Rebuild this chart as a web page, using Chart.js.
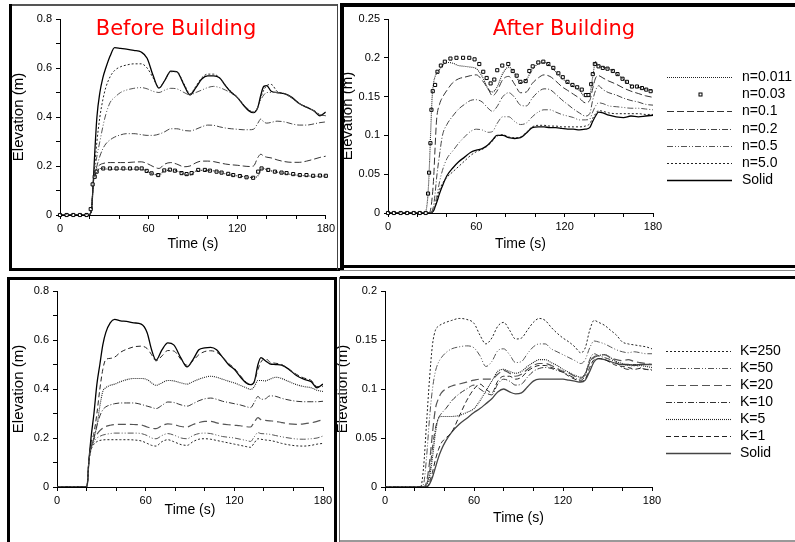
<!DOCTYPE html>
<html><head><meta charset="utf-8">
<script src="https://cdn.jsdelivr.net/npm/chart.js@4/dist/chart.umd.min.js"></script>
<style>
html,body{margin:0;padding:0;background:#fff;}
#wrap{position:relative;width:795px;height:542px;overflow:hidden;background:#fff;}
canvas{position:absolute;}
.b{position:absolute;background:#000;}
.ttl{position:absolute;color:#f00;font-family:"DejaVu Sans",sans-serif;font-size:21px;white-space:nowrap;transform:translate(-50%,-50%);line-height:1;}
</style></head>
<body><div id="wrap">
<canvas id="cTL" width="338" height="268" style="left:0px;top:0px"></canvas>
<canvas id="cTR" width="459" height="262" style="left:336px;top:4px"></canvas>
<canvas id="cBL" width="336" height="264" style="left:0px;top:278px"></canvas>
<canvas id="cBR" width="463" height="266" style="left:332px;top:276px"></canvas>
<div class="ttl" style="left:176px;top:28px">Before Building</div>
<div class="ttl" style="left:564px;top:28px">After Building</div>
<div class="b" style="left:10px;top:4px;width:328px;height:2px;background:#555"></div>
<div class="b" style="left:9px;top:4px;width:3px;height:267px"></div>
<div class="b" style="left:9px;top:268px;width:331px;height:3px"></div>
<div class="b" style="left:337px;top:4px;width:1px;height:266px;background:#444"></div>
<div class="b" style="left:340px;top:3px;width:455px;height:4px"></div>
<div class="b" style="left:340px;top:3px;width:4px;height:267px"></div>
<div class="b" style="left:340px;top:265px;width:455px;height:3px"></div>
<div class="b" style="left:340px;top:270px;width:455px;height:1px;background:#888"></div>
<div class="b" style="left:7px;top:277px;width:330px;height:3px"></div>
<div class="b" style="left:7px;top:277px;width:3px;height:265px"></div>
<div class="b" style="left:334px;top:277px;width:3px;height:265px"></div>
<div class="b" style="left:339px;top:277px;width:1px;height:265px;background:#666"></div>
<div class="b" style="left:340px;top:276px;width:455px;height:3px"></div>
<div class="b" style="left:340px;top:540px;width:455px;height:2px;background:#999"></div>
</div>
<script>
// ---------- Top-left: Before Building (n series) ----------
const tTL = [0, 19, 20.5, 21.5, 22.5, 23.5, 25, 27, 29, 31, 34, 37, 41, 45, 50, 55, 59, 63, 67, 71, 75, 79, 84, 88, 92, 96, 100, 104, 108, 112, 116, 120, 124, 128, 131, 134, 136, 138, 140, 143, 147, 152, 157, 162, 167, 172, 176, 180];
const tlN0011 = [0, 0, 0.005, 0.03, 0.13, 0.155, 0.175, 0.19, 0.19, 0.188, 0.187, 0.187, 0.187, 0.187, 0.187, 0.187, 0.178, 0.168, 0.163, 0.182, 0.182, 0.18, 0.168, 0.163, 0.18, 0.182, 0.182, 0.18, 0.175, 0.168, 0.163, 0.16, 0.157, 0.154, 0.153, 0.16, 0.185, 0.19, 0.185, 0.18, 0.175, 0.17, 0.165, 0.162, 0.16, 0.158, 0.158, 0.16];
const tlN01 = [0, 0, 0.005, 0.03, 0.13, 0.16, 0.19, 0.205, 0.21, 0.213, 0.214, 0.214, 0.214, 0.214, 0.216, 0.217, 0.21, 0.198, 0.19, 0.208, 0.214, 0.208, 0.197, 0.2, 0.213, 0.22, 0.22, 0.218, 0.213, 0.208, 0.205, 0.203, 0.2, 0.198, 0.2, 0.235, 0.248, 0.24, 0.236, 0.233, 0.225, 0.218, 0.215, 0.215, 0.22, 0.228, 0.235, 0.24];
const tlN02 = [0, 0, 0.005, 0.03, 0.13, 0.16, 0.2, 0.24, 0.27, 0.29, 0.307, 0.318, 0.327, 0.332, 0.332, 0.328, 0.325, 0.325, 0.33, 0.34, 0.352, 0.352, 0.345, 0.343, 0.35, 0.36, 0.367, 0.366, 0.36, 0.355, 0.352, 0.35, 0.348, 0.348, 0.35, 0.375, 0.392, 0.38, 0.375, 0.378, 0.383, 0.38, 0.372, 0.367, 0.367, 0.372, 0.377, 0.38];
const tlN05 = [0, 0, 0.005, 0.03, 0.13, 0.18, 0.24, 0.3, 0.36, 0.41, 0.46, 0.48, 0.5, 0.51, 0.517, 0.52, 0.515, 0.505, 0.5, 0.51, 0.517, 0.515, 0.5, 0.49, 0.5, 0.51, 0.52, 0.525, 0.52, 0.51, 0.497, 0.48, 0.452, 0.43, 0.42, 0.44, 0.47, 0.49, 0.5, 0.5, 0.5, 0.495, 0.478, 0.455, 0.44, 0.425, 0.41, 0.405];
const tlN50 = [0, 0, 0.005, 0.03, 0.13, 0.2, 0.3, 0.4, 0.47, 0.52, 0.565, 0.59, 0.605, 0.612, 0.617, 0.617, 0.6, 0.56, 0.52, 0.55, 0.585, 0.585, 0.535, 0.495, 0.525, 0.56, 0.575, 0.575, 0.56, 0.53, 0.503, 0.482, 0.452, 0.427, 0.42, 0.44, 0.48, 0.51, 0.528, 0.533, 0.505, 0.495, 0.478, 0.455, 0.44, 0.425, 0.41, 0.405];
const tlSolid = [0, 0, 0.005, 0.03, 0.13, 0.25, 0.4, 0.5, 0.56, 0.6, 0.65, 0.683, 0.68, 0.677, 0.672, 0.665, 0.64, 0.57, 0.518, 0.55, 0.587, 0.585, 0.53, 0.49, 0.52, 0.555, 0.568, 0.568, 0.56, 0.528, 0.5, 0.48, 0.45, 0.425, 0.418, 0.44, 0.49, 0.525, 0.528, 0.505, 0.5, 0.495, 0.48, 0.455, 0.44, 0.425, 0.405, 0.42];
const sqT_TL = [0, 4.5, 9, 13.5, 18, 20.8, 22.1, 23.5, 24.8, 29.3, 33.8, 38.3, 42.9, 47.4, 51.9, 55.3, 58.7, 62, 66.5, 70.6, 74.4, 77.8, 82.3, 85.7, 89.1, 93.6, 98.1, 101.5, 106, 109.4, 113.9, 117.3, 121.8, 126.3, 130.8, 134.2, 136.5, 141, 145.5, 150, 153.4, 157.9, 162.4, 166.9, 171.4, 176, 180];
const sqV_TL = [0, 0, 0, 0, 0, 0.024, 0.125, 0.156, 0.177, 0.19, 0.19, 0.19, 0.19, 0.19, 0.19, 0.19, 0.18, 0.17, 0.163, 0.182, 0.185, 0.181, 0.171, 0.167, 0.171, 0.184, 0.184, 0.181, 0.177, 0.173, 0.168, 0.163, 0.159, 0.154, 0.152, 0.177, 0.19, 0.184, 0.177, 0.173, 0.171, 0.167, 0.163, 0.163, 0.16, 0.161, 0.16];

// ---------- Top-right: After Building (n series) ----------
const tTR = [0, 20, 25, 27, 28, 29, 30, 31, 32, 33, 35, 37, 40, 44, 48, 52, 56, 60, 64, 68, 71, 74, 78, 82, 86, 90, 94, 98, 102, 106, 110, 114, 118, 122, 126, 130, 134, 137, 139, 141, 143, 146, 150, 155, 160, 165, 170, 175, 180];
const trN0011 = [0, 0, 0, 0.02, 0.055, 0.105, 0.15, 0.168, 0.176, 0.18, 0.185, 0.19, 0.194, 0.193, 0.19, 0.189, 0.188, 0.186, 0.176, 0.16, 0.156, 0.162, 0.18, 0.188, 0.18, 0.168, 0.172, 0.185, 0.192, 0.194, 0.19, 0.182, 0.174, 0.168, 0.163, 0.158, 0.15, 0.152, 0.175, 0.195, 0.19, 0.188, 0.186, 0.18, 0.172, 0.165, 0.162, 0.16, 0.157];
const trN01 = [0, 0, 0, 0, 0, 0.005, 0.02, 0.045, 0.085, 0.12, 0.14, 0.149, 0.158, 0.168, 0.173, 0.175, 0.177, 0.178, 0.171, 0.16, 0.151, 0.157, 0.172, 0.176, 0.166, 0.155, 0.156, 0.167, 0.174, 0.178, 0.176, 0.17, 0.163, 0.158, 0.153, 0.148, 0.142, 0.145, 0.16, 0.174, 0.177, 0.174, 0.17, 0.166, 0.161, 0.157, 0.154, 0.151, 0.149];
const trN02 = [0, 0, 0, 0, 0, 0, 0.003, 0.01, 0.025, 0.045, 0.075, 0.1, 0.114, 0.125, 0.134, 0.14, 0.145, 0.146, 0.143, 0.135, 0.131, 0.137, 0.15, 0.155, 0.149, 0.139, 0.138, 0.148, 0.156, 0.16, 0.159, 0.153, 0.146, 0.14, 0.134, 0.129, 0.125, 0.128, 0.145, 0.158, 0.164, 0.159, 0.155, 0.152, 0.148, 0.145, 0.143, 0.14, 0.139];
const trN05 = [0, 0, 0, 0, 0, 0, 0.002, 0.006, 0.012, 0.02, 0.04, 0.055, 0.07, 0.08, 0.09, 0.098, 0.105, 0.108, 0.107, 0.104, 0.105, 0.115, 0.124, 0.124, 0.118, 0.114, 0.116, 0.124, 0.13, 0.133, 0.133, 0.13, 0.127, 0.125, 0.123, 0.12, 0.12, 0.121, 0.13, 0.138, 0.142, 0.141, 0.138, 0.137, 0.136, 0.135, 0.135, 0.134, 0.133];
const trN50 = [0, 0, 0, 0, 0, 0, 0.001, 0.004, 0.01, 0.017, 0.03, 0.038, 0.046, 0.053, 0.06, 0.067, 0.074, 0.079, 0.082, 0.087, 0.093, 0.099, 0.101, 0.098, 0.097, 0.098, 0.104, 0.111, 0.113, 0.113, 0.112, 0.112, 0.111, 0.111, 0.111, 0.111, 0.112, 0.115, 0.122, 0.128, 0.132, 0.131, 0.129, 0.128, 0.128, 0.128, 0.128, 0.127, 0.127];
const trSolid = [0, 0, 0, 0, 0, 0, 0.001, 0.003, 0.008, 0.013, 0.025, 0.035, 0.048, 0.058, 0.066, 0.072, 0.078, 0.081, 0.083, 0.088, 0.094, 0.1, 0.1, 0.097, 0.096, 0.097, 0.103, 0.11, 0.111, 0.111, 0.11, 0.11, 0.109, 0.108, 0.108, 0.107, 0.108, 0.11, 0.118, 0.125, 0.13, 0.129, 0.126, 0.124, 0.123, 0.125, 0.124, 0.125, 0.126];
const sqT_TR = [0, 4, 8.6, 13, 17.5, 21.6, 25.6, 27.2, 27.9, 28.8, 29.5, 30.4, 32, 33.6, 35.9, 38.6, 42.4, 46.5, 51, 55.2, 58.8, 62, 64.7, 67, 69.7, 72.2, 74.2, 77.6, 81.7, 84.7, 87.4, 89.9, 93.5, 96, 98.3, 102.1, 105.5, 108.9, 112.3, 115.7, 118.7, 121.9, 125.3, 128.5, 131.6, 134.4, 136.2, 138, 139.1, 140.5, 143, 145.9, 149.1, 152.7, 155.9, 159.3, 162.3, 165.7, 169.1, 172.5, 175.4, 178.4];
const sqV_TR = [0, 0, 0, 0, 0, 0, 0, 0.025, 0.052, 0.09, 0.133, 0.157, 0.165, 0.182, 0.19, 0.195, 0.199, 0.2, 0.2, 0.2, 0.198, 0.192, 0.182, 0.174, 0.167, 0.172, 0.184, 0.19, 0.192, 0.183, 0.177, 0.169, 0.17, 0.183, 0.189, 0.194, 0.195, 0.192, 0.187, 0.18, 0.175, 0.169, 0.165, 0.162, 0.159, 0.152, 0.152, 0.166, 0.179, 0.192, 0.189, 0.187, 0.186, 0.183, 0.179, 0.173, 0.169, 0.163, 0.163, 0.161, 0.159, 0.157];
const labelsN = ['n=0.011', 'n=0.03', 'n=0.1', 'n=0.2', 'n=0.5', 'n=5.0', 'Solid'];

// ---------- Bottom-left: Before Building (K series) ----------
const tBL = [0, 19.5, 20.5, 21.5, 23, 25, 27, 29, 31, 33, 36, 39, 43, 47, 52, 57, 61, 64, 67, 71, 75, 79, 84, 88, 92, 96, 100, 104, 108, 112, 116, 120, 124, 128, 131, 133.5, 136, 138, 141, 144, 148, 152, 157, 162, 167, 172, 176, 180];
const blK250 = [0, 0, 0.01, 0.1, 0.15, 0.175, 0.185, 0.19, 0.192, 0.193, 0.193, 0.193, 0.193, 0.193, 0.192, 0.188, 0.178, 0.17, 0.167, 0.185, 0.193, 0.185, 0.173, 0.17, 0.185, 0.195, 0.197, 0.195, 0.19, 0.185, 0.18, 0.175, 0.17, 0.165, 0.162, 0.18, 0.197, 0.195, 0.192, 0.19, 0.185, 0.178, 0.172, 0.168, 0.167, 0.17, 0.175, 0.178];
const blK50 = [0, 0, 0.01, 0.1, 0.155, 0.185, 0.2, 0.207, 0.212, 0.215, 0.218, 0.22, 0.22, 0.22, 0.22, 0.218, 0.21, 0.2, 0.197, 0.21, 0.218, 0.212, 0.2, 0.197, 0.21, 0.218, 0.22, 0.218, 0.212, 0.206, 0.203, 0.2, 0.195, 0.19, 0.186, 0.205, 0.222, 0.218, 0.217, 0.215, 0.21, 0.205, 0.2, 0.196, 0.195, 0.197, 0.2, 0.208];
const blK20 = [0, 0, 0.01, 0.1, 0.16, 0.195, 0.215, 0.23, 0.24, 0.247, 0.252, 0.255, 0.256, 0.256, 0.255, 0.253, 0.245, 0.24, 0.238, 0.25, 0.258, 0.255, 0.247, 0.245, 0.255, 0.263, 0.268, 0.268, 0.262, 0.257, 0.254, 0.252, 0.25, 0.246, 0.245, 0.265, 0.283, 0.275, 0.272, 0.27, 0.268, 0.263, 0.258, 0.256, 0.258, 0.262, 0.268, 0.275];
const blK10 = [0, 0, 0.01, 0.1, 0.16, 0.2, 0.25, 0.29, 0.315, 0.327, 0.335, 0.34, 0.343, 0.343, 0.343, 0.337, 0.33, 0.325, 0.32, 0.333, 0.347, 0.345, 0.335, 0.33, 0.34, 0.352, 0.36, 0.363, 0.358, 0.35, 0.345, 0.34, 0.335, 0.328, 0.324, 0.345, 0.37, 0.358, 0.36, 0.372, 0.37, 0.362, 0.355, 0.35, 0.348, 0.348, 0.348, 0.35];
const blK5 = [0, 0, 0.01, 0.1, 0.16, 0.2, 0.25, 0.33, 0.39, 0.405, 0.415, 0.42, 0.43, 0.438, 0.443, 0.443, 0.438, 0.425, 0.415, 0.425, 0.435, 0.433, 0.425, 0.42, 0.43, 0.44, 0.448, 0.452, 0.448, 0.44, 0.432, 0.425, 0.415, 0.405, 0.398, 0.41, 0.435, 0.435, 0.433, 0.44, 0.448, 0.443, 0.43, 0.418, 0.41, 0.405, 0.395, 0.39];
const blK1 = [0, 0, 0.01, 0.1, 0.18, 0.22, 0.3, 0.4, 0.48, 0.52, 0.525, 0.53, 0.55, 0.562, 0.572, 0.575, 0.565, 0.54, 0.515, 0.535, 0.557, 0.555, 0.52, 0.497, 0.515, 0.54, 0.553, 0.556, 0.55, 0.53, 0.505, 0.485, 0.455, 0.428, 0.418, 0.43, 0.48, 0.51, 0.525, 0.51, 0.505, 0.5, 0.48, 0.46, 0.445, 0.435, 0.41, 0.41];
const blSolid = [0, 0, 0.01, 0.1, 0.2, 0.3, 0.42, 0.5, 0.58, 0.63, 0.67, 0.684, 0.678, 0.676, 0.67, 0.665, 0.63, 0.56, 0.518, 0.56, 0.588, 0.58, 0.525, 0.49, 0.52, 0.56, 0.568, 0.57, 0.56, 0.53, 0.5, 0.48, 0.45, 0.425, 0.418, 0.43, 0.5, 0.528, 0.515, 0.503, 0.5, 0.497, 0.48, 0.455, 0.44, 0.43, 0.405, 0.42];

// ---------- Bottom-right: After Building (K series) ----------
const tBR = [0, 22, 24, 26, 28, 30, 32, 34, 36, 38, 41, 45, 50, 55, 60, 64, 68, 72, 76, 80, 84, 88, 92, 96, 100, 104, 108, 112, 116, 120, 124, 128, 132, 135, 138, 141, 144, 148, 152, 156, 160, 164, 168, 172, 176, 180];
const brK250 = [0, 0, 0, 0.02, 0.065, 0.11, 0.145, 0.16, 0.164, 0.166, 0.168, 0.17, 0.172, 0.171, 0.167, 0.155, 0.146, 0.152, 0.164, 0.168, 0.16, 0.151, 0.152, 0.16, 0.168, 0.172, 0.17, 0.163, 0.157, 0.152, 0.148, 0.143, 0.137, 0.142, 0.16, 0.17, 0.168, 0.165, 0.16, 0.155, 0.148, 0.146, 0.145, 0.144, 0.143, 0.141];
const brK50 = [0, 0, 0, 0.003, 0.03, 0.07, 0.1, 0.118, 0.127, 0.132, 0.137, 0.141, 0.143, 0.144, 0.142, 0.134, 0.123, 0.128, 0.139, 0.141, 0.135, 0.127, 0.128, 0.136, 0.143, 0.146, 0.146, 0.141, 0.138, 0.135, 0.132, 0.129, 0.126, 0.13, 0.142, 0.149, 0.148, 0.146, 0.143, 0.14, 0.138, 0.137, 0.138, 0.137, 0.136, 0.136];
const brK20 = [0, 0, 0, 0, 0.005, 0.025, 0.055, 0.08, 0.09, 0.096, 0.1, 0.103, 0.105, 0.107, 0.109, 0.11, 0.11, 0.11, 0.115, 0.119, 0.116, 0.113, 0.115, 0.12, 0.124, 0.126, 0.126, 0.124, 0.121, 0.118, 0.116, 0.113, 0.111, 0.115, 0.127, 0.133, 0.134, 0.135, 0.132, 0.13, 0.129, 0.13, 0.128, 0.127, 0.126, 0.125];
const brK10 = [0, 0, 0, 0, 0.003, 0.015, 0.04, 0.06, 0.07, 0.075, 0.08, 0.088, 0.095, 0.1, 0.104, 0.1, 0.096, 0.094, 0.105, 0.11, 0.108, 0.104, 0.105, 0.112, 0.118, 0.121, 0.122, 0.121, 0.119, 0.117, 0.114, 0.111, 0.109, 0.114, 0.13, 0.136, 0.134, 0.132, 0.13, 0.127, 0.122, 0.12, 0.125, 0.122, 0.12, 0.12];
const brK5 = [0, 0, 0, 0, 0.002, 0.01, 0.03, 0.055, 0.07, 0.072, 0.072, 0.072, 0.073, 0.076, 0.08, 0.088, 0.098, 0.108, 0.118, 0.12, 0.118, 0.116, 0.118, 0.123, 0.127, 0.13, 0.13, 0.127, 0.124, 0.12, 0.117, 0.114, 0.112, 0.116, 0.128, 0.132, 0.134, 0.135, 0.132, 0.128, 0.126, 0.124, 0.125, 0.124, 0.123, 0.122];
const brK1 = [0, 0, 0, 0, 0, 0.005, 0.015, 0.028, 0.038, 0.045, 0.05, 0.056, 0.072, 0.088, 0.1, 0.105, 0.1, 0.096, 0.108, 0.113, 0.113, 0.11, 0.112, 0.118, 0.122, 0.124, 0.124, 0.122, 0.12, 0.117, 0.113, 0.11, 0.108, 0.11, 0.122, 0.13, 0.131, 0.13, 0.127, 0.124, 0.123, 0.122, 0.12, 0.121, 0.12, 0.119];
const brSolid = [0, 0, 0, 0, 0, 0.003, 0.01, 0.02, 0.03, 0.038, 0.047, 0.056, 0.064, 0.07, 0.076, 0.08, 0.085, 0.09, 0.097, 0.1, 0.097, 0.095, 0.096, 0.102, 0.108, 0.11, 0.11, 0.11, 0.11, 0.11, 0.109, 0.108, 0.107, 0.109, 0.118, 0.128, 0.131, 0.13, 0.128, 0.126, 0.125, 0.125, 0.124, 0.125, 0.125, 0.125];
const labelsK = ['K=250', 'K=50', 'K=20', 'K=10', 'K=5', 'K=1', 'Solid'];

// ---------- tick label lists ----------
const xTickLabels = [0, 60, 120, 180];
const yTicksTall = ['0', '0.2', '0.4', '0.6', '0.8'];
const yTicksTR = ['0', '0.05', '0.1', '0.15', '0.2', '0.25'];
const yTicksBR = ['0', '0.05', '0.1', '0.15', '0.2'];

Chart.defaults.font.family = '"Liberation Sans", Arial, sans-serif';
Chart.defaults.color = '#000';

const lineLegend = {
  id: 'lineLegend',
  afterDraw(chart, args, opts) {
    if (!opts || !opts.display) return;
    const ctx = chart.ctx;
    ctx.save();
    chart.data.datasets.forEach((ds, i) => {
      const y = Math.round(opts.y0 + i * opts.dy) + 0.5;
      if (ds.showLine === false) {
        ctx.setLineDash([]);
        ctx.lineWidth = 1; ctx.strokeStyle = '#000'; ctx.fillStyle = '#fff';
        const cx = Math.round((opts.x1 + opts.x2) / 2) + 0.5;
        ctx.fillRect(cx - 1.5, y - 1.5, 3, 3); ctx.strokeRect(cx - 1.5, y - 1.5, 3, 3);
      } else {
        ctx.setLineDash(ds.borderDash || []);
        ctx.lineWidth = ds.borderWidth; ctx.strokeStyle = ds.borderColor;
        ctx.beginPath(); ctx.moveTo(opts.x1, y); ctx.lineTo(opts.x2, y); ctx.stroke();
      }
      ctx.setLineDash([]);
      ctx.fillStyle = '#000';
      ctx.font = '14px "Liberation Sans", Arial, sans-serif';
      ctx.textBaseline = 'middle'; ctx.textAlign = 'left';
      ctx.fillText(ds.label, opts.textX, y);
    });
    ctx.restore();
  }
};

function pts(t, v) { return t.map((x, i) => ({ x: x, y: v[i] })); }
function line(label, t, v, dash, color, width) {
  return { label, data: pts(t, v), borderColor: color, borderWidth: width || 1, borderDash: dash,
    pointRadius: 0, fill: false, cubicInterpolationMode: 'monotone' };
}
function marks(label, t, v) {
  return { label, data: pts(t, v), showLine: false, pointStyle: 'rect', pointRadius: 2.2,
    pointBorderWidth: 1, pointBorderColor: '#000', pointBackgroundColor: '#fff', borderColor: '#000', clip: false };
}
function fmt(v, list) {
  for (const s of list) if (Math.abs(parseFloat(s) - v) < 1e-6) return s;
  return '';
}

function makeChart(id, datasets, p) {
  return new Chart(document.getElementById(id), {
    type: 'line',
    data: { datasets },
    plugins: [lineLegend],
    options: {
      responsive: false, animation: false, devicePixelRatio: 1,
      layout: { padding: { top: p.padTop, right: p.padRight, left: 0, bottom: 0 } },
      plugins: { legend: { display: false }, tooltip: { enabled: false }, lineLegend: p.legend || { display: false } },
      scales: {
        x: {
          type: 'linear', min: 0, max: 180,
          afterFit(s) { s.height = p.xH; },
          border: { color: '#000', width: 1 },
          grid: { drawOnChartArea: false, tickLength: 4, color: '#000' },
          ticks: { stepSize: 20, autoSkip: false, maxRotation: 0, padding: 3, color: '#000', font: { size: 11 },
            callback: v => xTickLabels.includes(v) ? String(v) : '' },
          title: { display: true, text: 'Time (s)', color: '#000', font: { size: 14 }, padding: { top: 0, bottom: p.xTitlePad } }
        },
        y: {
          type: 'linear', min: 0, max: p.yMax,
          afterFit(s) { s.width = p.yW; },
          border: { color: '#000', width: 1 },
          grid: { drawOnChartArea: false, tickLength: 4, color: '#000' },
          ticks: { stepSize: p.yStep, autoSkip: false, padding: 4, color: '#000', font: { size: 11 },
            callback: v => fmt(v, p.yLabels) },
          title: { display: true, text: 'Elevation (m)', color: '#000', font: { size: 15 }, padding: { top: p.yTitlePad, bottom: 0 } }
        }
      }
    }
  });
}

// Top-left
makeChart('cTL', [
  line(labelsN[0], tTL, tlN0011, [1, 1], '#222', 1.1),
  marks(labelsN[1], sqT_TL, sqV_TL),
  line(labelsN[2], tTL, tlN01, [7, 3], '#333', 1),
  line(labelsN[3], tTL, tlN02, [6, 2, 1, 2], '#444', 1),
  line(labelsN[4], tTL, tlN05, [6, 2, 1, 2, 1, 2], '#555', 1),
  line(labelsN[5], tTL, tlN50, [2, 2], '#222', 1),
  line(labelsN[6], tTL, tlSolid, [], '#000', 1.3)
], { padTop: 19, padRight: 12, xH: 53, yW: 60, yMax: 0.8, yStep: 0.1, yLabels: yTicksTall, xTitlePad: 15, yTitlePad: 10 });

// Top-right
makeChart('cTR', [
  line(labelsN[0], tTR, trN0011, [1, 1], '#222', 1.1),
  marks(labelsN[1], sqT_TR, sqV_TR),
  line(labelsN[2], tTR, trN01, [7, 3], '#333', 1),
  line(labelsN[3], tTR, trN02, [6, 2, 1, 2], '#444', 1),
  line(labelsN[4], tTR, trN05, [6, 2, 1, 2, 1, 2], '#555', 1),
  line(labelsN[5], tTR, trN50, [2, 2], '#222', 1),
  line(labelsN[6], tTR, trSolid, [], '#000', 1.3)
], { padTop: 15, padRight: 142, xH: 53, yW: 52, yMax: 0.25, yStep: 0.05, yLabels: yTicksTR, xTitlePad: 13, yTitlePad: 3,
     legend: { display: true, x1: 331, x2: 396, textX: 406, y0: 73, dy: 17.2 } });

// Bottom-left
makeChart('cBL', [
  line(labelsK[0], tBL, blK250, [2, 2], '#222', 1),
  line(labelsK[1], tBL, blK50, [6, 2, 1, 2, 1, 2], '#555', 1),
  line(labelsK[2], tBL, blK20, [8, 4], '#555', 1.2),
  line(labelsK[3], tBL, blK10, [6, 2, 1, 2], '#333', 1),
  line(labelsK[4], tBL, blK5, [1, 1], '#222', 1.1),
  line(labelsK[5], tBL, blK1, [5, 3], '#222', 1),
  line(labelsK[6], tBL, blSolid, [], '#000', 1.3)
], { padTop: 13, padRight: 13, xH: 55, yW: 57, yMax: 0.8, yStep: 0.1, yLabels: yTicksTall, xTitlePad: 23, yTitlePad: 10 });

// Bottom-right
makeChart('cBR', [
  line(labelsK[0], tBR, brK250, [2, 2], '#222', 1),
  line(labelsK[1], tBR, brK50, [6, 2, 1, 2, 1, 2], '#555', 1),
  line(labelsK[2], tBR, brK20, [8, 4], '#555', 1.2),
  line(labelsK[3], tBR, brK10, [6, 2, 1, 2], '#333', 1),
  line(labelsK[4], tBR, brK5, [1, 1], '#222', 1.1),
  line(labelsK[5], tBR, brK1, [5, 3], '#222', 1),
  line(labelsK[6], tBR, brSolid, [], '#444', 1.3)
], { padTop: 15, padRight: 143, xH: 55, yW: 53, yMax: 0.2, yStep: 0.05, yLabels: yTicksBR, xTitlePad: 15, yTitlePad: 2,
     legend: { display: true, x1: 334, x2: 399, textX: 408, y0: 75, dy: 17.0 } });
</script>
</body></html>
